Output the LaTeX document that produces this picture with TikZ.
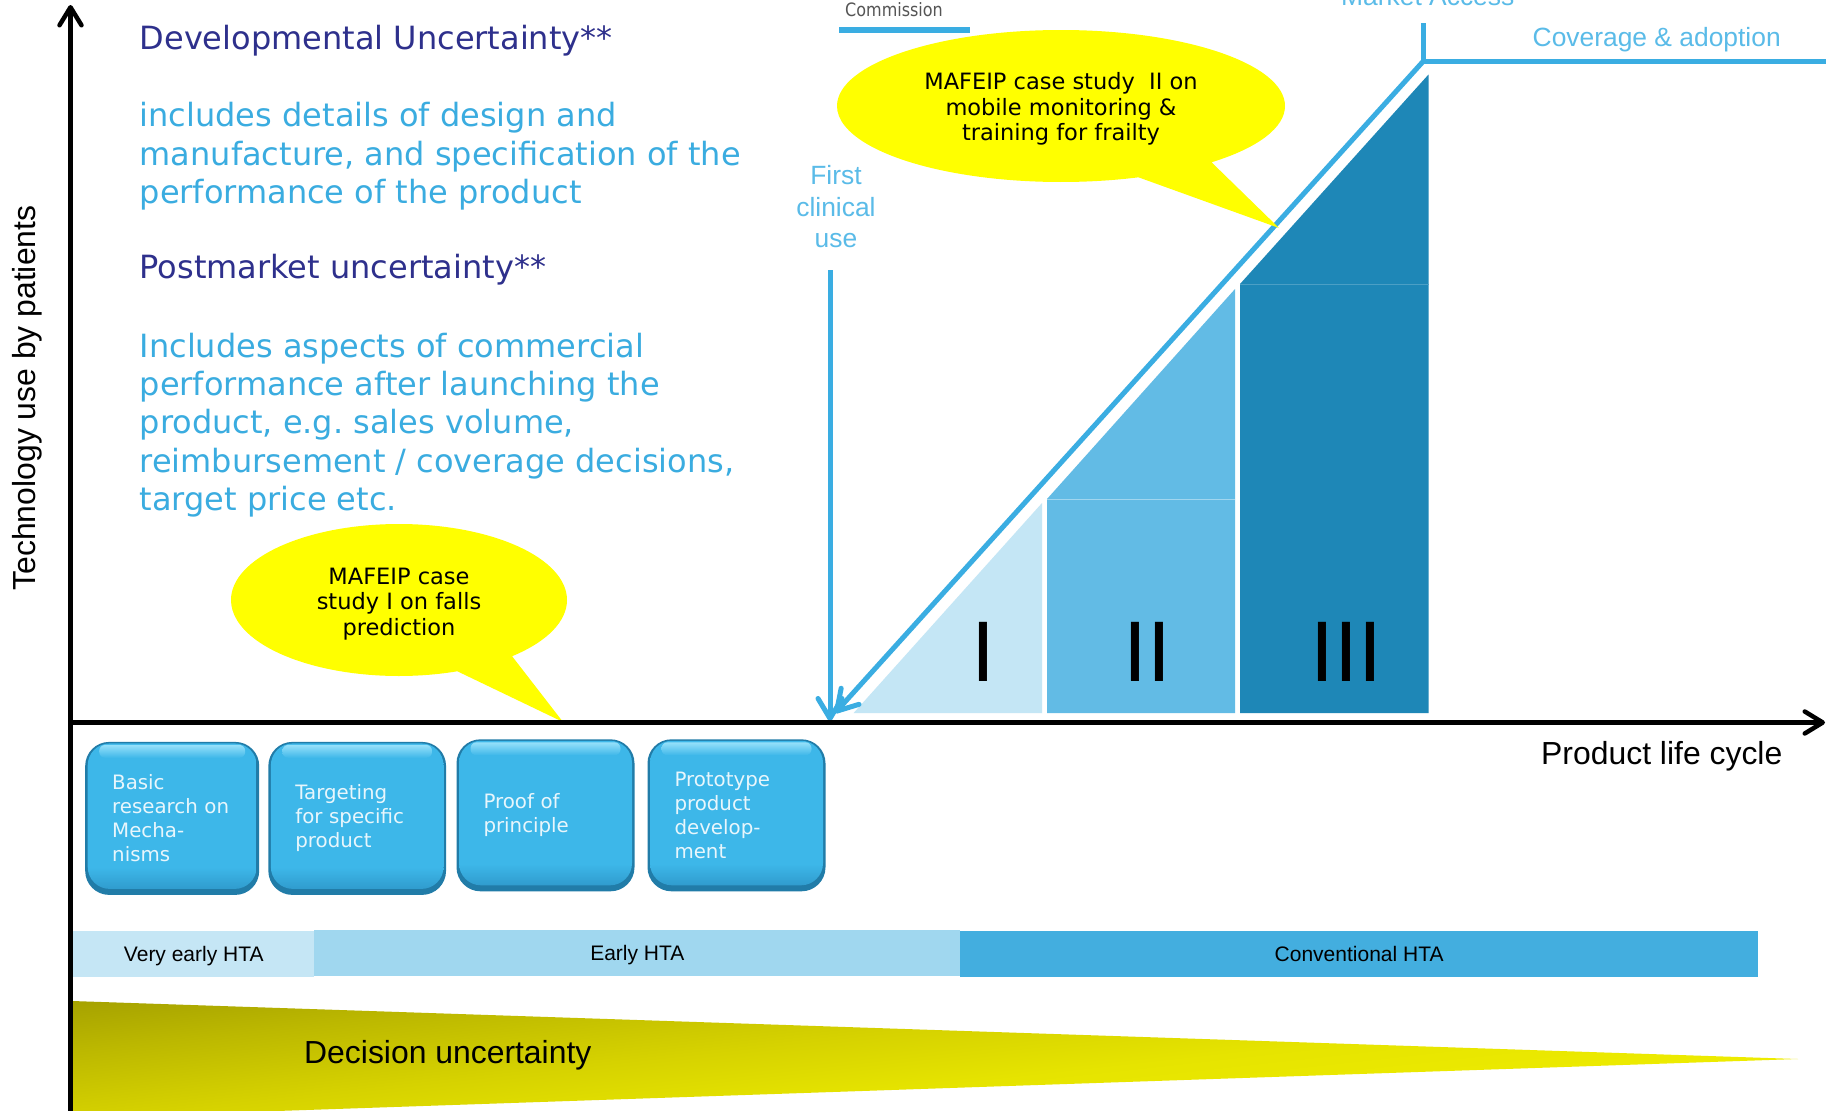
\documentclass[tikz,border=0pt]{standalone}
\usepackage{fontspec}
\setmainfont{DejaVu Sans}
\newfontfamily\arialf{Liberation Sans}
\newfontfamily\commf[FakeStretch=0.87]{DejaVu Sans}
\usetikzlibrary{arrows.meta,shapes.callouts,shapes.geometric}

\definecolor{headnavy}{RGB}{46,48,140}
\definecolor{bodyblue}{RGB}{58,172,224}
\definecolor{lineblue}{RGB}{58,173,226}
\definecolor{lightlabel}{RGB}{90,187,232}
\definecolor{stageI}{RGB}{196,230,245}
\definecolor{stageII}{RGB}{98,187,229}
\definecolor{stageIII}{RGB}{30,135,183}
\definecolor{btnbase}{RGB}{61,183,233}
\definecolor{btnlow}{RGB}{44,148,198}
\definecolor{btnedge}{RGB}{33,124,168}
\definecolor{btnhi}{RGB}{150,224,250}
\definecolor{btntext}{RGB}{232,246,252}
\definecolor{htaA}{RGB}{197,230,245}
\definecolor{htaB}{RGB}{160,215,239}
\definecolor{htaC}{RGB}{67,174,223}
\definecolor{decA}{RGB}{166,162,0}
\definecolor{decB}{RGB}{188,184,0}
\definecolor{decC}{RGB}{207,203,0}
\definecolor{decD}{RGB}{214,210,0}
\definecolor{decE}{RGB}{230,228,0}
\definecolor{decF}{RGB}{238,236,0}
\definecolor{bubble}{RGB}{255,255,0}
\definecolor{commgray}{RGB}{85,85,85}

% yellow wedge: dark olive in the upper left, bright yellow further down and right
\pgfdeclarehorizontalshading{decshade}{100bp}{color(0bp)=(decA); color(26bp)=(decA); color(35.7bp)=(decB); color(45.4bp)=(decC); color(49.3bp)=(decD); color(61bp)=(decE); color(74bp)=(decF); color(100bp)=(decF)}
% button body: flat, darkening towards the lower rim
\pgfdeclareverticalshading{btnbody}{100bp}{color(0bp)=(btnlow); color(25bp)=(btnlow); color(34bp)=(btnbase); color(100bp)=(btnbase)}

\begin{document}
\frenchspacing
\begin{tikzpicture}[x=1pt,y=-1pt,
  hd/.style={anchor=base west, inner sep=0pt, text=headnavy, font=\fontsize{32}{38.4}\selectfont},
  bd/.style={hd, text=bodyblue},
  lbl/.style={inner sep=0pt, text=lightlabel, font=\arialf\fontsize{26.4}{31.7}\selectfont},
  blackarial/.style={inner sep=0pt, font=\arialf\fontsize{31.9}{37}\selectfont},
  numeral/.style={anchor=base, inner sep=0pt, font=\arialf\fontsize{86}{90}\selectfont},
  htabar/.style={inner sep=0pt, minimum height=46pt, text height=15pt, text depth=0pt, font=\arialf\fontsize{21}{25}\selectfont},
  callbubble/.style={ellipse callout, fill=bubble, inner sep=0pt, callout pointer arc=22, align=center, font=\fontsize{22.5}{25.5}\selectfont},
  blueline/.style={draw=lineblue, line width=5pt},
  bluearrow/.style={blueline, -{Straight Barb[length=20pt,width=24pt,round]}},
  axisline/.style={draw=black, line width=4.5pt, -{Straight Barb[length=18pt,width=22pt,round]}},
  btn/.style={rounded corners=24pt, fill=btnedge, text=btntext, align=left,
    inner xsep=27pt, inner ysep=0pt, font=\fontsize{19.8}{24}\selectfont,
    path picture={
      \shade[shading=btnbody, rounded corners=22pt]
        ([xshift=2.5pt,yshift=6pt]path picture bounding box.south west) rectangle
        ([xshift=-2.5pt,yshift=-1.5pt]path picture bounding box.north east);
      \shade[top color=btnhi, bottom color=btnbase, rounded corners=6pt]
        ([xshift=14pt,yshift=-3pt]path picture bounding box.north west) rectangle
        ([xshift=-14pt,yshift=-16pt]path picture bounding box.north east);
    }},
]
\useasboundingbox (0,0) rectangle (1826,1111);
\clip (0,0) rectangle (1826,1111);
\fill[white] (0,0) rectangle (1826,1111);

% ---------- text block on uncertainty ----------
\node[hd] (dev0) at (139.5,49) {Developmental Uncertainty**};
\node[bd] (dev1) at (139.5,126.8) {includes details of design and};
\node[bd] (dev2) at (139.5,165.2) {manufacture, and specification of the};
\node[bd] (dev3) at (139.5,203.6) {performance of the product};
\node[hd] (pm0) at (139.5,278.6) {Postmarket uncertainty**};
\node[bd] (pm1) at (139.5,357) {Includes aspects of commercial};
\node[bd] (pm2) at (139.5,395.4) {performance after launching the};
\node[bd] (pm3) at (139.5,433.8) {product, e.g. sales volume,};
\node[bd] (pm4) at (139.5,472.2) {reimbursement / coverage decisions,};
\node[bd] (pm5) at (139.5,510.6) {target price etc.};

% ---------- HTA stages ----------
\fill[stageI] (853.6,713) -- (1042,503) -- (1042,713) -- cycle;
\fill[stageII] (1047,713) -- (1047,499) -- (1235,289) -- (1235,713) -- cycle;
\draw[stageII!60!white, line width=1pt] (1047,499) -- (1235,499);
\fill[stageIII] (1240,713) -- (1240,284) -- (1428.5,74.5) -- (1428.5,713) -- cycle;
\draw[stageIII!80!white, line width=1pt] (1240,284) -- (1428.5,284);
\node[numeral] (n1) at (983.5,681) {I};
\node[numeral] (n2) at (1147,681) {II};
\node[numeral] (n3) at (1346.5,681) {III};

% ---------- market access bracket and diagonal ----------
\coordinate (mkTop) at (1423.5,23);
\coordinate (mkCorner) at (1423.5,61);
\coordinate (mkRight) at (1830,61);
\coordinate (diagTip) at (835,713);
\draw[blueline] (mkTop) -- (mkCorner) -- (mkRight);
\draw[bluearrow] (mkCorner) -- (diagTip);
\node[lbl, anchor=base west] (mkt) at (1341,5.5) {Market Access};
\node[lbl, anchor=base west] (cov) at (1532.5,46.7) {Coverage \& adoption};

% ---------- first clinical use ----------
\node[lbl, anchor=base] (fc1) at (836,184) {First};
\node[lbl, anchor=base] (fc2) at (836,216) {clinical};
\node[lbl, anchor=base] (fc3) at (836,247.5) {use};
\coordinate (fcTop) at (830,270);
\coordinate (fcTip) at (830,721);
\draw[bluearrow] (fcTop) -- (fcTip);

% ---------- Commission tab ----------
\node[anchor=base west, inner sep=0pt, text=commgray, font=\commf\fontsize{18.4}{20}\selectfont] (comm) at (845,16.7) {Commission};
\fill[lineblue] (839,26.7) rectangle (970,33.3);

% ---------- case study callouts ----------
\node[callbubble, minimum width=336pt, minimum height=152pt,
      callout absolute pointer={(563,722)}] (case1) at (399,600)
      {\rule{0pt}{24pt}MAFEIP case\\study I on falls\\prediction};
\node[callbubble, minimum width=448pt, minimum height=152pt,
      callout absolute pointer={(1279,228)}] (case2) at (1061,106)
      {\rule{0pt}{23pt}MAFEIP case study~ II on\\mobile monitoring \&\\training for frailty};

% ---------- development steps ----------
\node[btn, minimum width=174pt, minimum height=153pt, text width=120pt] (b1) at (172.2,818.4)
  {Basic\\research on\\Mecha-\\nisms};
\node[btn, minimum width=177.7pt, minimum height=153pt, text width=123.7pt] (b2) at (357.2,818.4)
  {Targeting\\for specific\\product};
\node[btn, minimum width=178pt, minimum height=152pt, text width=124pt] (b3) at (545.5,815.3)
  {Proof of\\principle};
\node[btn, minimum width=178pt, minimum height=152pt, text width=124pt] (b4) at (736.5,815.3)
  {Prototype\\product\\develop-\\ment};

% ---------- HTA bar ----------
\node[htabar, fill=htaA, minimum width=241pt] (hta1) at (193.8,953.8) {Very early HTA};
\node[htabar, fill=htaB, minimum width=646.1pt] (hta2) at (637.35,953.3) {Early HTA};
\node[htabar, fill=htaC, minimum width=797.5pt] (hta3) at (1359.15,953.8) {Conventional HTA};

% ---------- decision uncertainty wedge ----------
% the gradient runs steeply downwards: the frame is turned so that its x axis follows it
\begin{scope}
  \clip (72,1001) -- (1798,1059) -- (72,1118) -- cycle;
  \begin{scope}[transform canvas={rotate around={-83.7:(74,1001)}}]
    \shade[shading=decshade] (69,-719) rectangle (326,1021);
  \end{scope}
\end{scope}
\node[blackarial, anchor=base west] (dec) at (304,1063.5) {Decision uncertainty};

% ---------- axes ----------
\coordinate (ybot) at (70.5,1111);
\coordinate (ytip) at (70.5,5);
\coordinate (xorg) at (70.5,722.5);
\coordinate (xtip) at (1825,722.5);
\draw[axisline] (ybot) -- (ytip);
\draw[axisline] (xorg) -- (xtip);
\node[blackarial, rotate=90] (ylab) at (27,398) {Technology use by patients};
\node[blackarial, anchor=base west] (xlab) at (1541,764) {Product life cycle};
\end{tikzpicture}
\end{document}
